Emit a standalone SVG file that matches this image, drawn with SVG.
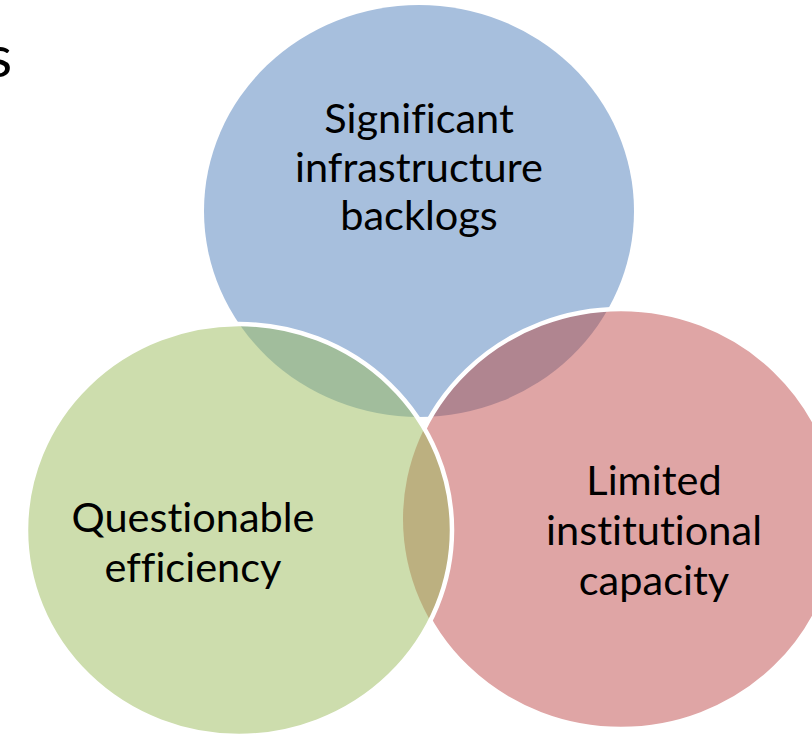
<svg xmlns="http://www.w3.org/2000/svg" width="812" height="735" viewBox="0 0 812 735">
  <style>
    text { font-family: Lato, "Liberation Sans", sans-serif; font-variant-ligatures: none; font-feature-settings: "liga" 0, "clig" 0; fill: #000; }
    .lbl { font-size: 41.5px; text-anchor: middle; }
    .edge { fill: none; stroke: #ffffff; stroke-width: 4.5; }
  </style>
  <defs>
    <clipPath id="clipBlue"><ellipse cx="419" cy="211" rx="215" ry="206"/></clipPath>
    <clipPath id="clipRed"><ellipse cx="621" cy="519" rx="218" ry="210"/></clipPath>
  </defs>
  <rect width="812" height="735" fill="#ffffff"/>
  <text x="12" y="77" font-size="58" text-anchor="end">s</text>

  <g id="blue">
    <ellipse cx="419" cy="211" rx="215" ry="206" fill="#A7BFDD"/>
    <text class="lbl" x="419" y="133">Significant</text>
    <text class="lbl" x="419" y="182">infrastructure</text>
    <text class="lbl" x="419" y="230">backlogs</text>
  </g>

  <g id="red">
    <ellipse cx="621" cy="519" rx="218" ry="210" fill="#DFA5A5"/>
    <ellipse cx="621" cy="519" rx="218" ry="210" fill="#B08590" clip-path="url(#clipBlue)"/>
    <ellipse class="edge" cx="621" cy="519" rx="218" ry="210"/>
    <text class="lbl" x="654" y="495">Limited</text>
    <text class="lbl" x="654" y="545">institutional</text>
    <text class="lbl" x="654" y="595">capacity</text>
  </g>

  <g id="green">
    <ellipse cx="239" cy="530" rx="213" ry="206" fill="#CDDDAD"/>
    <ellipse cx="239" cy="530" rx="213" ry="206" fill="#A1BD9C" clip-path="url(#clipBlue)"/>
    <ellipse cx="239" cy="530" rx="213" ry="206" fill="#BCB080" clip-path="url(#clipRed)"/>
    <ellipse class="edge" cx="239" cy="530" rx="213" ry="206"/>
    <text class="lbl" x="193" y="532">Questionable</text>
    <text class="lbl" x="193" y="582">efficiency</text>
  </g>
</svg>
